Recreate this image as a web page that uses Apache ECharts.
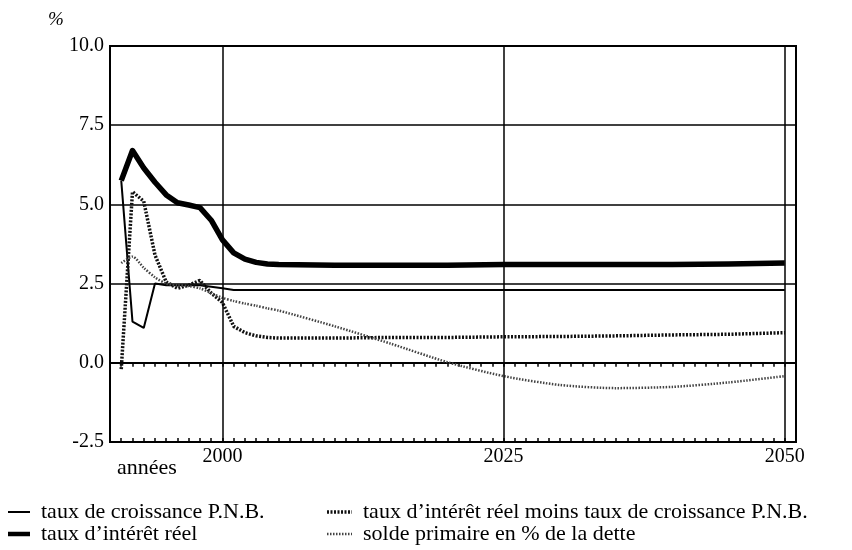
<!DOCTYPE html>
<html>
<head>
<meta charset="utf-8">
<script src="https://cdn.jsdelivr.net/npm/echarts@6/dist/echarts.min.js"></script>
<style>
html,body{margin:0;padding:0;background:#fff;}
#chart{width:852px;height:550px;}
</style>
</head>
<body>
<div id="chart"></div>
<script>
const years = [1991,1992,1993,1994,1995,1996,1997,1998,1999,2000,2001,2002,2003,2004,2005,2010,2015,2020,2025,2030,2035,2040,2045,2050];
const croissance = [5.75,1.3,1.1,2.5,2.45,2.45,2.45,2.45,2.4,2.35,2.3,2.3,2.3,2.3,2.3,2.3,2.3,2.3,2.3,2.3,2.3,2.3,2.3,2.3];
const interet = [5.75,6.7,6.15,5.7,5.3,5.05,4.98,4.9,4.5,3.88,3.47,3.27,3.17,3.12,3.1,3.08,3.08,3.08,3.1,3.1,3.1,3.1,3.12,3.15];
const differentiel = [-0.2,5.4,5.1,3.4,2.55,2.35,2.45,2.6,2.2,1.9,1.15,0.95,0.85,0.8,0.78,0.78,0.8,0.8,0.82,0.83,0.85,0.88,0.9,0.95];
const solde = [3.15,3.35,3.0,2.7,2.5,2.45,2.42,2.35,2.2,2.05,1.95,1.87,1.8,1.72,1.65,1.15,0.6,0.02,-0.42,-0.7,-0.8,-0.76,-0.62,-0.42];
const yTicks = [-2.5,0,2.5,5,7.5,10];
const xLabels = [2000,2025,2050];
const names = ['taux de croissance P.N.B.','taux d\u2019intérêt réel','taux d\u2019intérêt réel moins taux de croissance P.N.B.','solde primaire en % de la dette'];

const pairs = arr => years.map((y,i)=>[y,arr[i]]);
const FONT = 'Liberation Serif';
const styles = [
  {color:'#000',width:2,type:'solid'},
  {color:'#000',width:5.5,type:'solid'},
  {color:'#111',width:3.5,type:[2,1.5]},
  {color:'#444',width:2.5,type:[1.5,1.5]}
];
const legendPos = [[8,512],[8,534],[327,512],[327,534]];
const legendW = [22,22,25,25];
const legendGraphics = [];
names.forEach((n,i)=>{
  const [x,y] = legendPos[i];
  legendGraphics.push({type:'line',shape:{x1:x,y1:y,x2:x+legendW[i],y2:y},
    style:{stroke:styles[i].color,lineWidth:Math.min(styles[i].width,4.5),lineDash:Array.isArray(styles[i].type)?styles[i].type:null}});
  legendGraphics.push({type:'text',x:x+legendW[i]+11,y:y,
    style:{text:n,font:'22px "Liberation Serif"',fill:'#000',verticalAlign:'middle'}});
});

const chart = echarts.init(document.getElementById('chart'));
chart.setOption({
  animation:false,
  backgroundColor:'#fff',
  textStyle:{fontFamily:FONT,color:'#000'},
  grid:{left:110,right:56,top:46,bottom:108,show:true,borderColor:'#000',borderWidth:2,backgroundColor:'transparent'},
  xAxis:[{
    type:'value',min:1990,max:2051,interval:1,position:'bottom',
    axisLine:{show:true,lineStyle:{color:'#000',width:2}},
    axisTick:{show:true,inside:false,length:4,lineStyle:{color:'#000',width:1.5}},
    axisLabel:{interval:0,margin:5,fontFamily:FONT,fontSize:20,color:'#000',
      formatter:v=> xLabels.indexOf(v)>=0 ? String(v) : ''},
    splitLine:{show:false}
  },{
    type:'value',min:1990,max:2051,interval:1,position:'bottom',
    axisLine:{show:false},
    axisTick:{show:true,inside:true,length:4,lineStyle:{color:'#000',width:1.5}},
    axisLabel:{show:false},splitLine:{show:false}
  }],
  yAxis:{
    type:'value',min:yTicks[0],max:yTicks[yTicks.length-1],interval:2.5,
    axisLine:{show:true,lineStyle:{color:'#000',width:2}},
    axisTick:{show:false},
    axisLabel:{margin:6,fontFamily:FONT,fontSize:20,color:'#000',formatter:v=>v.toFixed(1)},
    splitLine:{show:true,lineStyle:{color:'#000',width:1.5}}
  },
  graphic:[
    {type:'text',left:48,top:10,style:{text:'%',font:'italic 19px "Liberation Serif"',fill:'#000'}},
    {type:'text',left:117,top:457,style:{text:'années',font:'22px "Liberation Serif"',fill:'#000'}}
  ].concat(legendGraphics),
  series:[
    {name:names[0],type:'line',data:pairs(croissance),symbol:'none',
      lineStyle:styles[0],itemStyle:{color:'#000'},
      markLine:{silent:true,symbol:['none','none'],label:{show:false},
        lineStyle:{color:'#000',width:1.5,type:'solid'},
        data:xLabels.map(v=>({xAxis:v}))}},
    {name:names[1],type:'line',data:pairs(interet),symbol:'none',
      lineStyle:Object.assign({join:'round'},styles[1]),itemStyle:{color:'#000'}},
    {name:names[2],type:'line',data:pairs(differentiel),symbol:'none',
      lineStyle:styles[2],itemStyle:{color:'#111'}},
    {name:names[3],type:'line',data:pairs(solde),symbol:'none',smooth:0.25,
      lineStyle:styles[3],itemStyle:{color:'#444'}}
  ]
});
</script>
</body>
</html>
